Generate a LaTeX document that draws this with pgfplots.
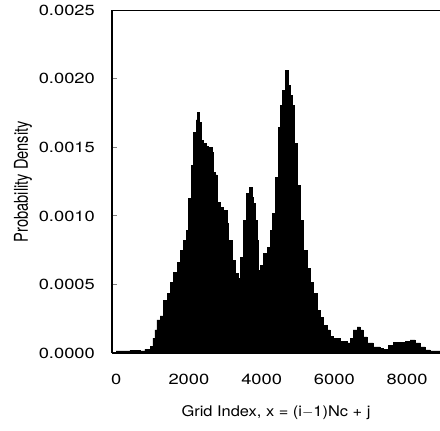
\documentclass[border=0pt]{standalone}
\usepackage{pgfplots}
\pgfplotsset{compat=1.18}
\usepackage{graphicx}
\usepackage{fontspec}
\setmainfont[FakeStretch=1.25]{TeX Gyre Heros}
\newfontfamily\plainfont{TeX Gyre Heros}
\newfontfamily\labfont[FakeStretch=1.12]{TeX Gyre Heros}
\begin{document}
\fontsize{11}{13}\selectfont
\begin{tikzpicture}
\begin{axis}[
  scale only axis,
  width=246pt, height=257pt,
  xmin=-115, xmax=8905,
  ymin=0, ymax=0.0025,
  axis x line*=box, axis y line*=left,
  axis line style={line width=1.2pt},
  xtick={0,2000,4000,6000,8000},
  ytick={0,0.0005,0.001,0.0015,0.002,0.0025},
  xtick style={draw=none},
  ytick style={line width=0.8pt},
  tick align=inside,
  major tick length=4pt,
  scaled y ticks=false,
  /pgf/number format/assume math mode=true,
  yticklabel style={/pgf/number format/.cd, fixed, fixed zerofill, precision=4, /tikz/.cd, xshift=-9pt},
  xticklabel style={yshift=-12pt},
  xticklabel={\pgfmathprintnumber[set thousands separator={}]{\tick}},
  ylabel={\plainfont\scalebox{1}[1.3]{Probability Density}},
  xlabel={\labfont Grid Index, x = (i$-$1)Nc + j},
  ylabel style={yshift=-2.5pt},
  xlabel style={yshift=-8pt},
  tick label style={font=\fontsize{11}{13}\selectfont},
  label style={font=\fontsize{11}{13}\selectfont},
]
\addplot[const plot, fill=black, draw=black, line width=0.3pt] table {
x y
0 0.000015
105 0.000015
380 0.000018
655 0.000015
792 0.000029
930 0.000051
1012 0.000109
1067 0.000168
1122 0.000241
1205 0.00027
1288 0.000386
1398 0.000437
1480 0.000518
1563 0.00059
1673 0.000663
1755 0.000751
1838 0.000824
1920 0.000897
1975 0.00113
2058 0.00137
2113 0.00161
2195 0.0017
2223 0.001757
2278 0.001684
2333 0.00155
2388 0.00153
2470 0.00151
2525 0.0015
2635 0.001465
2663 0.00132
2718 0.0013
2773 0.0011
2855 0.001064
2938 0.00104
3048 0.000948
3075 0.000824
3185 0.000678
3268 0.000583
3350 0.000547
3405 0.0007
3488 0.00097
3570 0.001166
3653 0.00121
3735 0.001137
3763 0.001093
3818 0.00097
3873 0.000824
3900 0.000605
3955 0.000641
4038 0.000729
4148 0.000773
4230 0.000897
4285 0.00102
4368 0.00128
4450 0.001647
4505 0.001808
4560 0.001917
4643 0.002063
4725 0.001953
4780 0.00188
4835 0.001808
4890 0.00153
4973 0.001225
5055 0.00097
5138 0.000751
5248 0.00062
5330 0.000518
5413 0.000437
5523 0.000313
5605 0.000262
5688 0.000204
5798 0.000168
5880 0.000124
5963 0.000109
6155 0.000087
6348 0.000073
6430 0.000109
6513 0.000168
6623 0.00019
6705 0.000168
6788 0.000117
6898 0.000073
7063 0.000044
7255 0.000036
7338 0.000029
7475 0.000058
7613 0.00008
7805 0.00008
7943 0.000087
8080 0.000095
8218 0.000073
8355 0.000044
8493 0.000022
8630 0.000015
8905 0.000015
} \closedcycle;
\end{axis}
\pgfresetboundingbox
\path[use as bounding box] ([shift={(-84pt,-57.75pt)}]current axis.south west) rectangle ++(330pt,322.5pt);
\end{tikzpicture}
\end{document}
